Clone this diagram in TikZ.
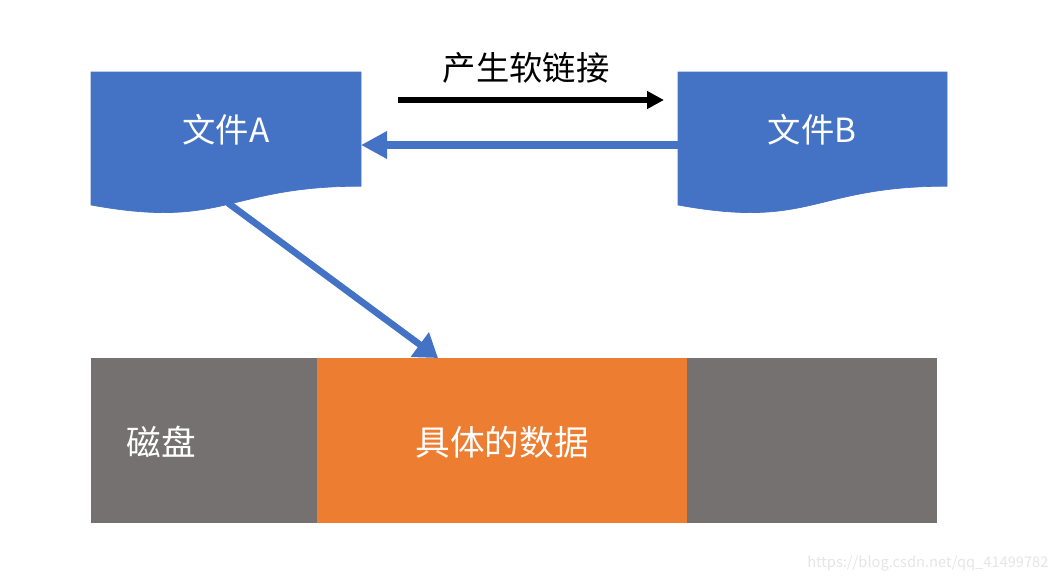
\documentclass[tikz,border=0pt]{standalone}
\usepackage{fontspec}
\setmainfont{Noto Sans CJK SC}
\usetikzlibrary{arrows.meta}

\definecolor{docblue}{RGB}{68,114,196}
\definecolor{diskgray}{RGB}{117,113,113}
\definecolor{dataorange}{RGB}{237,125,49}

\tikzset{every picture/.style={line width=0.75pt}}
\tikzset{
  docshape/.style={draw=docblue,fill=docblue,line width=0.5pt},
  doctext/.style={inner sep=0.75pt,font=\fontsize{25}{29}\selectfont,text=white},
  bartext/.style={inner sep=0.75pt,font=\fontsize{26}{30}\selectfont,text=white},
  linkarrow/.style={draw=docblue,line width=6pt,-{Triangle[length=19.5pt,width=19.5pt]}}
}

\begin{document}
\begin{tikzpicture}[x=0.75pt,y=0.75pt,yscale=-1,xscale=1]
\useasboundingbox (0,0) rectangle (1060,582);

%Shape: Document [id:fileA]
\draw [docshape] (91,72) -- (361,72) -- (361,186.2) .. controls (226,186.2) and (226,229.7) .. (91,205) -- cycle ;
%Shape: Document [id:fileB]
\draw [docshape] (678,72) -- (947,72) -- (947,186.2) .. controls (812.5,186.2) and (812.5,229.7) .. (678,205) -- cycle ;

%Shape: Rectangle [id:diskL]
\draw [draw=none,fill=diskgray] (91,358) rectangle (317,523) ;
%Shape: Rectangle [id:data]
\draw [draw=none,fill=dataorange] (317,358) rectangle (687,523) ;
%Shape: Rectangle [id:diskR]
\draw [draw=none,fill=diskgray] (687,358) rectangle (937,523) ;

% Text Node
\node [doctext] (txtA) at (226,130) {文件A};
% Text Node
\node [doctext] (txtB) at (812,130) {文件B};
% Text Node
\node [inner sep=0.75pt,font=\fontsize{25}{29}\selectfont] (txtLink) at (526,68) {产生软链接};
% Text Node
\node [bartext,anchor=west] (txtDisk) at (125,442) {磁盘};
% Text Node
\node [bartext] (txtData) at (502,442) {具体的数据};
% Text Node
\node [inner sep=0.75pt,anchor=east,font=\fontsize{11}{13}\selectfont,text=black!10] (txtMark) at (1050,563) {https://blog.csdn.net/qq\_41499782};

% end points
\coordinate (linkS) at (398,100);
\coordinate (linkE) at (664,100);
\coordinate (aRight) at (361,145);
\coordinate (bLeft) at (678,145);
\coordinate (aBottom) at (228,203);
\coordinate (dataTop) at (438,358);

%Straight Lines [id:linkArrow]
\draw [line width=4pt,-{Triangle[length=12.75pt,width=12.75pt]}] (linkS) -- (linkE) ;
%Straight Lines [id:backArrow]
\draw [linkarrow] (bLeft) -- (aRight) ;
%Straight Lines [id:dataArrow]
\draw [linkarrow,line width=5pt,-{Triangle[length=17pt,width=22pt]}] (aBottom) -- (dataTop) ;

\end{tikzpicture}
\end{document}
